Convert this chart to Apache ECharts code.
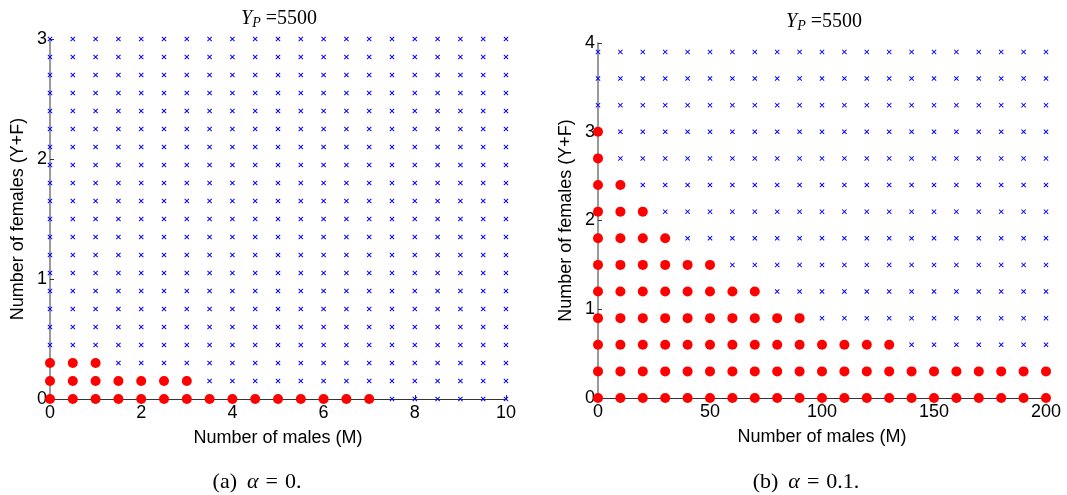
<!DOCTYPE html>
<html>
<head>
<meta charset="utf-8">
<script src="https://cdn.jsdelivr.net/npm/echarts@6/dist/echarts.min.js"></script>
<style>
  html, body { margin: 0; padding: 0; background: #fff; }
  #chart { width: 1067px; height: 495px; }
</style>
</head>
<body>
<div id="chart"></div>
<script>
// grid of (males, females) combinations, left panel (alpha = 0)
var leftMales = [0, 0.5, 1, 1.5, 2, 2.5, 3, 3.5, 4, 4.5, 5, 5.5, 6, 6.5, 7, 7.5, 8, 8.5, 9, 9.5, 10];
var leftFemales = [0, 0.15, 0.3, 0.45, 0.6, 0.75, 0.9, 1.05, 1.2, 1.35, 1.5, 1.65, 1.8, 1.95, 2.1, 2.25, 2.4, 2.55, 2.7, 2.85, 3];
// largest male count that is still feasible (red) for each female row
var leftRedMax = [7, 3, 1];

// right panel (alpha = 0.1)
var rightMales = [0, 10, 20, 30, 40, 50, 60, 70, 80, 90, 100, 110, 120, 130, 140, 150, 160, 170, 180, 190, 200];
var rightFemales = [0, 0.3, 0.6, 0.9, 1.2, 1.5, 1.8, 2.1, 2.4, 2.7, 3, 3.3, 3.6, 3.9];
var rightRedMax = [200, 200, 130, 90, 70, 50, 30, 20, 10, 0, 0];

var leftXTicks = [0, 2, 4, 6, 8, 10];
var leftYTicks = [0, 1, 2, 3];
var rightXTicks = [0, 50, 100, 150, 200];
var rightYTicks = [0, 1, 2, 3, 4];

function split(males, females, redMax) {
    var red = [], blue = [];
    females.forEach(function (f, j) {
        males.forEach(function (m) {
            if (j < redMax.length && m <= redMax[j]) red.push([m, f]);
            else blue.push([m, f]);
        });
    });
    return { red: red, blue: blue };
}

var L = split(leftMales, leftFemales, leftRedMax);
var R = split(rightMales, rightFemales, rightRedMax);

var cross = 'path://M0,1.3L1.3,0L5,3.7L8.7,0L10,1.3L6.3,5L10,8.7L8.7,10L5,6.3L1.3,10L0,8.7L3.7,5Z';

function xAx(idx, ticks) {
    return {
        gridIndex: idx, type: 'value',
        min: ticks[0], max: ticks[ticks.length - 1], interval: ticks[1] - ticks[0],
        name: 'Number of males (M)', nameLocation: 'middle', nameGap: 30,
        nameTextStyle: { fontFamily: 'Liberation Sans', fontSize: 18, color: '#000' },
        axisLine: { onZero: false, lineStyle: { color: '#333', width: 1 } },
        axisTick: { inside: true, length: 4, lineStyle: { color: '#333' } },
        axisLabel: { fontFamily: 'Liberation Sans', fontSize: 18, color: '#000', margin: 5 },
        splitLine: { show: false }
    };
}
function yAx(idx, ticks) {
    return {
        gridIndex: idx, type: 'value',
        min: ticks[0], max: ticks[ticks.length - 1], interval: ticks[1] - ticks[0],
        name: 'Number of females (Y+F)', nameLocation: 'middle', nameGap: 23, nameRotate: 90,
        nameTextStyle: { fontFamily: 'Liberation Sans', fontSize: 18, color: '#000' },
        axisLine: { show: true, onZero: false, lineStyle: { color: '#777', width: 1.5 } },
        axisTick: { show: true, inside: true, length: 4, lineStyle: { color: '#333' } },
        axisLabel: { fontFamily: 'Liberation Sans', fontSize: 18, color: '#000', margin: 3 },
        splitLine: { show: false }
    };
}

function ser(idx, data, isRed) {
    return {
        type: 'scatter', xAxisIndex: idx, yAxisIndex: idx, data: data,
        symbol: isRed ? 'circle' : cross,
        symbolSize: isRed ? 10 : 5,
        itemStyle: { color: isRed ? '#ff0000' : '#0000ff', opacity: 1 },
        clip: false, silent: true, z: isRed ? 3 : 2
    };
}

function txt(x, y, text, rich) {
    return {
        type: 'text', x: x, y: y,
        style: { text: text, textAlign: 'center', textVerticalAlign: 'middle', rich: rich }
    };
}
var titleRich = {
    i: { fontFamily: 'Liberation Serif', fontStyle: 'italic', fontSize: 20, color: '#000' },
    s: { fontFamily: 'Liberation Serif', fontStyle: 'italic', fontSize: 14, color: '#000', verticalAlign: 'bottom', padding: [9, 0, 0, 0] },
    n: { fontFamily: 'Liberation Serif', fontSize: 20, color: '#000' }
};
var capRich = {
    n: { fontFamily: 'Liberation Serif', fontSize: 22, color: '#000' },
    i: { fontFamily: 'Liberation Serif', fontStyle: 'italic', fontSize: 22, color: '#000', padding: [0, 0, 0, 10] },
    e: { fontFamily: 'Liberation Serif', fontSize: 22, color: '#000', padding: [0, 7, 0, 7] }
};

var myChart = echarts.init(document.getElementById('chart'));
var option = {
    animation: false,
    backgroundColor: '#fff',
    grid: [
        { left: 50, top: 39, width: 456, height: 360 },
        { left: 598, top: 43, width: 448, height: 355 }
    ],
    xAxis: [xAx(0, leftXTicks), xAx(1, rightXTicks)],
    yAxis: [yAx(0, leftYTicks), yAx(1, rightYTicks)],
    series: [
        ser(0, L.blue, false), ser(0, L.red, true),
        ser(1, R.blue, false), ser(1, R.red, true)
    ],
    graphic: [
        txt(279, 19, '{i|Y}{s|P}{n| =5500}', titleRich),
        txt(824, 22, '{i|Y}{s|P}{n| =5500}', titleRich),
        txt(257, 482, '{n|(a)}{i|α}{e|=}{n|0.}', capRich),
        txt(806, 482, '{n|(b)}{i|α}{e|=}{n|0.1.}', capRich)
    ]
};
myChart.setOption(option);
</script>
</body>
</html>
